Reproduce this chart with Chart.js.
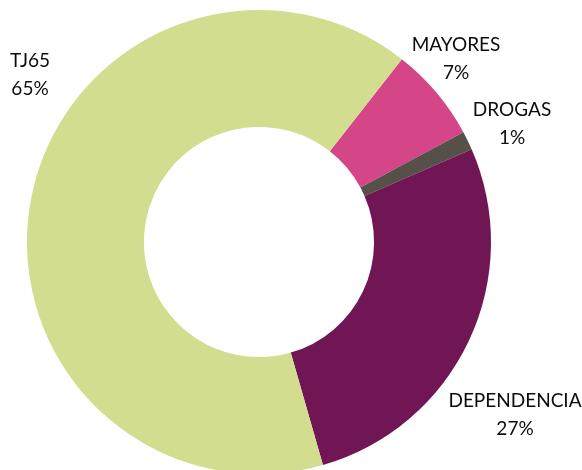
<!DOCTYPE html>
<html>
<head>
<meta charset="utf-8">
<script src="https://cdn.jsdelivr.net/npm/chart.js@4"></script>
<style>
  html, body { margin: 0; padding: 0; background: #fff; }
  #wrap { width: 582px; height: 470px; overflow: hidden; position: relative; }
</style>
</head>
<body>
<div id="wrap"><canvas id="c" width="582" height="490"></canvas></div>
<script>
// slices, clockwise from the first one
var categories = ["MAYORES", "DROGAS", "DEPENDENCIA", "TJ65"];
var shares = [6.6, 1.3, 27.1, 65.0];
var colors = ["#d44687", "#555048", "#701655", "#d3dd8f"];

// label anchors, relative to the chart centre
var labelOffsets = [[197, -183], [253, -118], [256, 173], [-229, -167]];

var total = shares.reduce(function(a, b) { return a + b; }, 0);

var labelPlugin = {
    id: 'sliceLabels',
    afterDatasetsDraw: function(chart) {
        var ctx = chart.ctx;
        var meta = chart.getDatasetMeta(0);
        ctx.save();
        ctx.font = '19px Lato, "Open Sans", sans-serif';
        ctx.fillStyle = '#0d0d0d';
        ctx.textAlign = 'center';
        ctx.textBaseline = 'middle';
        meta.data.forEach(function(arc, i) {
            var x = arc.x + labelOffsets[i][0];
            var y = arc.y + labelOffsets[i][1];
            var pct = Math.round(shares[i] / total * 100) + '%';
            ctx.fillText(categories[i], x, y - 14);
            ctx.fillText(pct, x, y + 14);
        });
        ctx.restore();
    }
};

new Chart(document.getElementById('c'), {
    type: 'doughnut',
    data: {
        labels: categories,
        datasets: [{
            data: shares,
            backgroundColor: colors,
            borderWidth: 0
        }]
    },
    options: {
        responsive: false,
        animation: false,
        rotation: 38,
        cutout: '49.6%',
        layout: { padding: { top: 10, left: 27, right: 91, bottom: 16 } },
        plugins: {
            legend: { display: false },
            tooltip: { enabled: false }
        }
    },
    plugins: [labelPlugin]
});
</script>
</body>
</html>
